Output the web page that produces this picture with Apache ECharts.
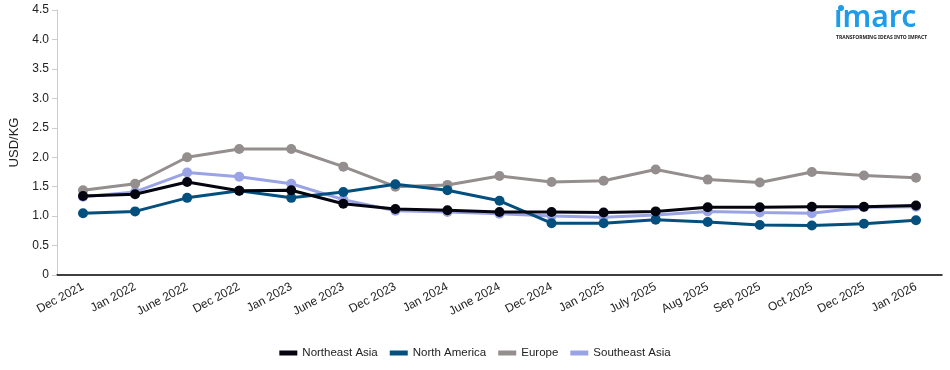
<!DOCTYPE html>
<html><head><meta charset="utf-8">
<script src="https://cdn.jsdelivr.net/npm/echarts@6/dist/echarts.min.js"></script>
<style>html,body{margin:0;padding:0;background:#fff}#c{width:950px;height:370px}</style>
</head><body><div id="c"></div>
<script>
var categories = ['Dec 2021','Jan 2022','June 2022','Dec 2022','Jan 2023','June 2023','Dec 2023','Jan 2024','June 2024','Dec 2024','Jan 2025','July 2025','Aug 2025','Sep 2025','Oct 2025','Dec 2025','Jan 2026'];
var northeastAsia = [1.34,1.37,1.58,1.43,1.44,1.21,1.12,1.10,1.07,1.07,1.06,1.08,1.15,1.15,1.16,1.16,1.18];
var northAmerica = [1.05,1.08,1.31,1.43,1.31,1.41,1.54,1.44,1.26,0.88,0.88,0.94,0.90,0.85,0.84,0.87,0.93];
var europe = [1.44,1.55,2.00,2.14,2.14,1.84,1.50,1.53,1.68,1.58,1.60,1.79,1.62,1.57,1.75,1.69,1.65];
var southeastAsia = [1.33,1.41,1.74,1.67,1.55,1.28,1.09,1.07,1.04,1.00,0.98,1.02,1.08,1.06,1.05,1.15,1.16];
var yTicks = [0,0.5,1.0,1.5,2.0,2.5,3.0,3.5,4.0,4.5];

var font = 'Liberation Sans, Arial, sans-serif';
function mk(name, data, color, z){
  return {name:name,type:'line',data:data,symbol:'circle',symbolSize:10,z:z,
    lineStyle:{width:3,color:color},itemStyle:{color:color}};
}
var chart = echarts.init(document.getElementById('c'));
chart.setOption({
  animation:false,
  grid:{left:55,right:8,top:10,bottom:95},
  legend:{bottom:6,left:'center',itemWidth:18,itemHeight:5,icon:'rect',itemGap:12,
    textStyle:{fontFamily:font,fontSize:11.5,color:'#222'},
    data:['Northeast Asia','North America','Europe','Southeast Asia']},
  xAxis:{type:'category',data:categories,boundaryGap:true,
    axisLine:{lineStyle:{color:'#000',width:1.5}},
    axisTick:{alignWithLabel:true,length:6,lineStyle:{color:'#000'}},
    axisLabel:{rotate:28,fontFamily:font,fontSize:12,color:'#222',interval:0,margin:11}},
  yAxis:{type:'value',min:0,max:4.5,interval:0.5,name:'USD/KG',nameLocation:'middle',nameGap:36,
    nameTextStyle:{fontFamily:font,fontSize:13,color:'#222'},
    axisLine:{show:true,lineStyle:{color:'#ccc'}},
    axisTick:{show:true,length:5,lineStyle:{color:'#ccc'}},
    splitLine:{show:false},
    axisLabel:{fontFamily:font,fontSize:12,color:'#222',
      formatter:function(v){return v===0?'0':v.toFixed(1);}}},
  graphic:[
    {type:'circle',shape:{cx:841,cy:8,r:3},style:{fill:'#1e9be9'}},
    {type:'text',left:834,top:3,style:{text:'ımarc',font:'600 30px "Noto Sans", sans-serif',fill:'#1e9be9'}},
    {type:'text',left:836,top:35,style:{text:'TRANSFORMING IDEAS INTO IMPACT',font:'bold 5px "Noto Sans", sans-serif',fill:'#222'}}
  ],
  series:[
    mk('Southeast Asia',southeastAsia,'#9aa3e6',1),
    mk('Europe',europe,'#948e8e',2),
    mk('North America',northAmerica,'#034f7e',3),
    mk('Northeast Asia',northeastAsia,'#050510',4)
  ]
});
</script></body></html>
